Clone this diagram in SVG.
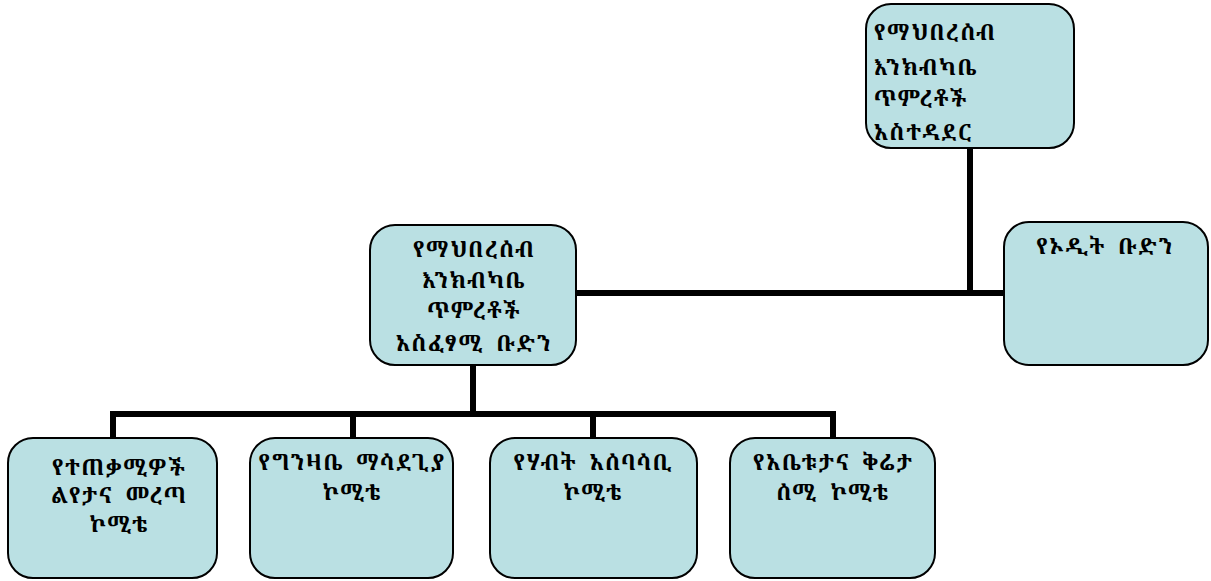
<svg xmlns="http://www.w3.org/2000/svg" width="1211" height="581" viewBox="0 0 1211 581">
<style>
.box{fill:#bae0e3;stroke:#000;stroke-width:2}
.t{font-family:"Noto Serif Ethiopic","Abyssinica SIL","Noto Sans Ethiopic","Noto Sans","DejaVu Sans",sans-serif;font-size:22px;font-weight:bold;letter-spacing:1.2px;word-spacing:6px;fill:#000}
.c{stroke:#000;stroke-width:6;fill:none}
</style>
<rect width="1211" height="581" fill="#fff"/>
<g id="connectors">
<line class="c" x1="970" y1="148" x2="970" y2="293"/>
<line class="c" x1="576" y1="293" x2="1004" y2="293"/>
<line class="c" x1="473" y1="365" x2="473" y2="414"/>
<line class="c" x1="110" y1="414" x2="836" y2="414"/>
<line class="c" x1="113" y1="411" x2="113" y2="438"/>
<line class="c" x1="353" y1="411" x2="353" y2="438"/>
<line class="c" x1="593" y1="411" x2="593" y2="438"/>
<line class="c" x1="833" y1="411" x2="833" y2="438"/>
</g>
<g id="n_top">
<rect class="box" x="866" y="4" width="208" height="144" rx="25"/>
<text class="t" x="874" y="40">የማህበረሰብ</text>
<text class="t" x="874" y="75">እንክብካቤ</text>
<text class="t" x="874" y="106">ጥምረቶች</text>
<text class="t" x="874" y="140">አስተዳደር</text>
</g>
<g id="n_exec">
<rect class="box" x="370" y="225" width="206" height="140" rx="25"/>
<text class="t" text-anchor="middle" x="474" y="257">የማህበረሰብ</text>
<text class="t" text-anchor="middle" x="474" y="288">እንክብካቤ</text>
<text class="t" text-anchor="middle" x="474" y="318">ጥምረቶች</text>
<text class="t" text-anchor="middle" x="474" y="351">አስፈፃሚ ቡድን</text>
</g>
<g id="n_audit">
<rect class="box" x="1004" y="222" width="204" height="143" rx="25"/>
<text class="t" text-anchor="middle" x="1105" y="254">የኦዲት ቡድን</text>
</g>
<g id="n_b1">
<rect class="box" x="8" y="438" width="209" height="140" rx="25"/>
<text class="t" text-anchor="middle" x="119" y="475">የተጠቃሚዎች</text>
<text class="t" text-anchor="middle" x="119" y="503">ልየታና መረጣ</text>
<text class="t" text-anchor="middle" x="119" y="532">ኮሚቴ</text>
</g>
<g id="n_b2">
<rect class="box" x="250" y="438" width="203" height="140" rx="25"/>
<text class="t" text-anchor="middle" x="352" y="470">የግንዛቤ ማሳደጊያ</text>
<text class="t" text-anchor="middle" x="352" y="500">ኮሚቴ</text>
</g>
<g id="n_b3">
<rect class="box" x="490" y="438" width="207" height="140" rx="25"/>
<text class="t" text-anchor="middle" x="593" y="470">የሃብት አሰባሳቢ</text>
<text class="t" text-anchor="middle" x="593" y="500">ኮሚቴ</text>
</g>
<g id="n_b4">
<rect class="box" x="730" y="438" width="205" height="140" rx="25"/>
<text class="t" text-anchor="middle" x="833" y="470">የአቤቱታና ቅሬታ</text>
<text class="t" text-anchor="middle" x="833" y="500">ሰሚ ኮሚቴ</text>
</g>
</svg>
